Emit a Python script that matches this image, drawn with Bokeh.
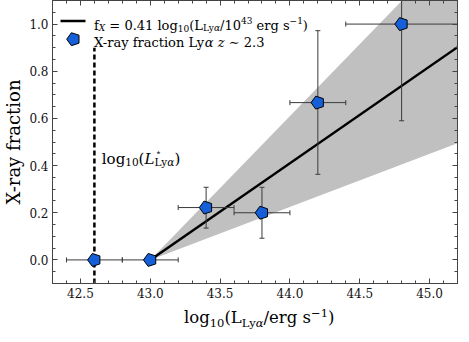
import math, struct, subprocess, glob
from bokeh.plotting import figure
from bokeh.models import (Range1d, SingleIntervalTicker, PrintfTickFormatter,
                          CustomJSTickFormatter, LinearAxis, Label, Div)
from bokeh.layouts import column
from bokeh.embed import file_html
from bokeh.resources import INLINE

# ---------------- data ----------------
lum_bin = [42.6, 43.0, 43.4, 43.8, 44.2, 44.8]
xray_frac = [0.0, 0.0, 0.222, 0.200, 0.667, 1.000]
lum_lo = [42.4, 42.8, 43.2, 43.6, 44.0, 44.4]
lum_hi = [42.8, 43.2, 43.6, 44.0, 44.4, 45.2]
# y errors only for the bins with detections
yerr_x = [43.4, 43.8, 44.2, 44.8]
yerr_lo = [0.135, 0.092, 0.363, 0.590]
yerr_hi = [0.308, 0.308, 0.972, 1.410]

fit_pivot = 43.0
fit_slope = 0.41
fit_slope_hi = 0.61
fit_slope_lo = 0.225
fit_x = [43.0, 45.2]

lstar = 42.6
lstar_top = 0.9

x_min, x_max = 42.3, 45.2
y_min, y_max = -0.1, 1.1

# ---------------- font metrics ----------------
def find_font(pattern, names):
    try:
        f = subprocess.run(["fc-match", "-f", "%{file}", pattern],
                           capture_output=True, text=True).stdout.strip()
        if f:
            return f
    except Exception:
        pass
    for n in names:
        g = glob.glob("/usr/share/fonts/**/" + n, recursive=True)
        if g:
            return g[0]
    return None

def load_metrics(path):
    data = open(path, "rb").read()
    ntab = struct.unpack(">H", data[4:6])[0]
    tables = {}
    for i in range(ntab):
        tag, cs, off, ln = struct.unpack(">4sIII", data[12 + 16 * i:28 + 16 * i])
        tables[tag.decode("latin1")] = off
    head = tables["head"]
    upem = struct.unpack(">H", data[head + 18:head + 20])[0]
    hhea = tables["hhea"]
    nhm = struct.unpack(">H", data[hhea + 34:hhea + 36])[0]
    hm = tables["hmtx"]
    adv = [struct.unpack(">H", data[hm + 4 * i:hm + 4 * i + 2])[0] for i in range(nhm)]
    cm = tables["cmap"]
    nsub = struct.unpack(">H", data[cm + 2:cm + 4])[0]
    sub = None
    for i in range(nsub):
        pid, eid, off = struct.unpack(">HHI", data[cm + 4 + 8 * i:cm + 12 + 8 * i])
        fmt = struct.unpack(">H", data[cm + off:cm + off + 2])[0]
        if fmt == 4 and pid in (0, 3):
            sub = cm + off
            break
    o = sub
    segx2 = struct.unpack(">H", data[o + 6:o + 8])[0]
    seg = segx2 // 2
    ends = struct.unpack(">%dH" % seg, data[o + 14:o + 14 + segx2])
    starts = struct.unpack(">%dH" % seg, data[o + 16 + segx2:o + 16 + 2 * segx2])
    deltas = struct.unpack(">%dh" % seg, data[o + 16 + 2 * segx2:o + 16 + 3 * segx2])
    rpos = o + 16 + 3 * segx2
    roffs = struct.unpack(">%dH" % seg, data[rpos:rpos + segx2])

    def gid(c):
        for i in range(seg):
            if ends[i] >= c:
                if starts[i] > c:
                    return 0
                if roffs[i] == 0:
                    return (c + deltas[i]) & 0xFFFF
                a = rpos + 2 * i + roffs[i] + 2 * (c - starts[i])
                g = struct.unpack(">H", data[a:a + 2])[0]
                return (g + deltas[i]) & 0xFFFF if g else 0
        return 0

    def width(s, size):
        return sum(adv[min(gid(ord(ch)), nhm - 1)] for ch in s) / upem * size
    return width

def fallback_width(s, size):
    return 0.6 * size * len(s)

metrics = {}
for style, pat, names in [("normal", "DejaVu Serif:style=Book", ["DejaVuSerif.ttf"]),
                          ("italic", "DejaVu Serif:style=Italic", ["DejaVuSerif-Italic.ttf"])]:
    try:
        metrics[style] = load_metrics(find_font(pat, names))
    except Exception:
        metrics[style] = fallback_width

FONT = "DejaVu Serif"
NB = "\u00a0"

# ---------------- figure geometry ----------------
ML, MT, FW, FH, MR, MB = 46, 0, 405, 283, 2, 20
TOTAL_W = ML + FW + MR

def X(px):
    return x_min + (px - ML) / FW * (x_max - x_min)

def Y(py):
    return y_max - (py - MT) / FH * (y_max - y_min)

p = figure(frame_width=FW, frame_height=FH, x_range=Range1d(x_min, x_max),
           y_range=Range1d(y_min, y_max), output_backend="svg",
           toolbar_location=None, min_border_left=ML, min_border_top=MT,
           min_border_right=MR, min_border_bottom=MB, margin=0)
p.background_fill_color = "white"
p.border_fill_color = "white"
p.xgrid.visible = False
p.ygrid.visible = False
p.outline_line_color = "#444444"
p.outline_line_width = 1

spine = "#444444"
def style_axis(ax, show_labels):
    ax.axis_line_color = spine
    ax.major_tick_line_color = spine
    ax.minor_tick_line_color = spine
    ax.major_tick_in = 5
    ax.major_tick_out = 0
    ax.minor_tick_in = 3
    ax.minor_tick_out = 0
    ax.major_label_text_font = FONT
    ax.major_label_text_font_size = "12px"
    ax.major_label_text_color = "#111111"
    if show_labels:
        ax.major_label_standoff = 4
        ax.formatter = PrintfTickFormatter(format="%.1f")
    else:
        ax.major_label_standoff = 0
        ax.formatter = CustomJSTickFormatter(code="return '';")

p.xaxis.ticker = SingleIntervalTicker(interval=0.5, num_minor_ticks=5)
p.yaxis.ticker = SingleIntervalTicker(interval=0.2, num_minor_ticks=4)
style_axis(p.xaxis[0], True)
style_axis(p.yaxis[0], True)
p.yaxis.axis_label = "X-ray fraction"
p.yaxis.axis_label_text_font = FONT
p.yaxis.axis_label_text_font_size = "18px"
p.yaxis.axis_label_text_font_style = "normal"
p.yaxis.axis_label_text_color = "black"
p.yaxis.axis_label_standoff = 2

top = LinearAxis(ticker=SingleIntervalTicker(interval=0.5, num_minor_ticks=5))
right = LinearAxis(ticker=SingleIntervalTicker(interval=0.2, num_minor_ticks=4))
style_axis(top, False)
style_axis(right, False)
p.add_layout(top, "above")
p.add_layout(right, "right")

# ---------------- glyphs ----------------
band_hi = [fit_slope_hi * (x - fit_pivot) for x in fit_x]
band_lo = [fit_slope_lo * (x - fit_pivot) for x in fit_x]
fit_y = [fit_slope * (x - fit_pivot) for x in fit_x]

p.varea(x=fit_x, y1=band_lo, y2=band_hi, fill_color="#c0c0c0", fill_alpha=1.0)
p.line(fit_x, fit_y, line_color="black", line_width=2.5)
p.segment(x0=[lstar], y0=[y_min], x1=[lstar], y1=[lstar_top],
          line_color="black", line_width=2.5, line_dash="5 3")

err_col = "#3a3a3a"
p.segment(x0=lum_lo, y0=xray_frac, x1=lum_hi, y1=xray_frac, line_color=err_col, line_width=1)
p.scatter(lum_lo + lum_hi, xray_frac + xray_frac, marker="dash", size=5,
          angle=math.pi / 2, line_color=err_col, line_width=1)
p.segment(x0=yerr_x, y0=yerr_lo, x1=yerr_x, y1=yerr_hi, line_color=err_col, line_width=1)
p.scatter(yerr_x + yerr_x, yerr_lo + yerr_hi, marker="dash", size=5,
          line_color=err_col, line_width=1)

marker_fill = "#1560d8"
def pentagons(xs, ys):
    try:
        p.ngon(x=xs, y=ys, radius=6.8, radius_units="screen", n=5, angle=math.pi / 2,
               fill_color=marker_fill, line_color="black", line_width=1)
    except Exception:
        p.scatter(xs, ys, marker="hex", size=12, fill_color=marker_fill,
                  line_color="black", line_width=1)

pentagons(lum_bin, xray_frac)

# ---------------- text runs (inside the frame) ----------------
def text_run(x0, base, pieces, color="black"):
    x = x0
    for txt, size, dy, style in pieces:
        lead = len(txt) - len(txt.lstrip(" "))
        shown = NB * lead + txt.lstrip(" ")
        p.add_layout(Label(x=X(x), y=Y(base - dy), text=shown, text_font=FONT,
                           text_font_size="%.1fpx" % size, text_font_style=style,
                           text_color=color, text_align="left",
                           text_baseline="alphabetic"))
        x += metrics[style](txt, size)
    return x

# legend
p.line([X(54), X(79)], [Y(20.5), Y(20.5)], line_color="black", line_width=2.5)
pentagons([X(67)], [Y(38.7)])
L = 13
s = 9
text_run(87.5, 25, [
    ("f", L, 0, "normal"), ("X", s, -2.5, "italic"),
    (" = 0.41 log", L, 0, "normal"), ("10", s, -2.5, "normal"),
    ("(L", L, 0, "normal"), ("Ly", s, -2.5, "normal"), ("α", s, -2.5, "italic"),
    ("/10", L, 0, "normal"), ("43", s, 5, "normal"),
    (" erg s", L, 0, "normal"), ("−1", s, 5, "normal"), (")", L, 0, "normal"),
])
text_run(87.5, 42, [
    ("X-ray fraction Ly", L, 0, "normal"), ("α", L, 0, "italic"),
    (" ", L, 0, "normal"), ("z", L, 0, "italic"), (" ∼ 2.3", L, 0, "normal"),
])

# L* label
M = 15
sm = 10.5
text_run(95.3, 158, [
    ("log", M, 0, "normal"), ("10", sm, -3, "normal"), ("(", M, 0, "normal"),
    ("L", M, 0, "italic"), ("Ly", sm, -3.5, "normal"), ("α", sm, -3.5, "italic"),
    (")", M, 0, "normal"),
])
p.add_layout(Label(x=X(95.3 + metrics["normal"]("log", M) + metrics["normal"]("10", sm)
                       + metrics["normal"]("(", M) + metrics["italic"]("L", M) + 1),
                   y=Y(158 - 7), text="⋆", text_font=FONT, text_font_size="%.1fpx" % sm,
                   text_align="left", text_baseline="alphabetic"))

# ---------------- x axis label (HTML below the figure) ----------------
sub = "font-size:11.5px;position:relative;top:4px;"
sup = "font-size:11.5px;position:relative;top:-6px;"
xlabel_html = (
    '<div style="font-family:\'DejaVu Serif\';font-size:16.5px;line-height:14px;'
    'white-space:nowrap;padding-left:184px;padding-top:8px;color:black;">'
    'log<span style="%s">10</span>(L<span style="%s">Ly<i>α</i></span>'
    '/erg&nbsp;s<span style="%s">−1</span>)</div>' % (sub, sub, sup)
)
xdiv = Div(text=xlabel_html, width=TOTAL_W, height=23, margin=0)

layout = column(p, xdiv, spacing=0, margin=0)
open("out.html", "w").write(file_html(layout, INLINE))
